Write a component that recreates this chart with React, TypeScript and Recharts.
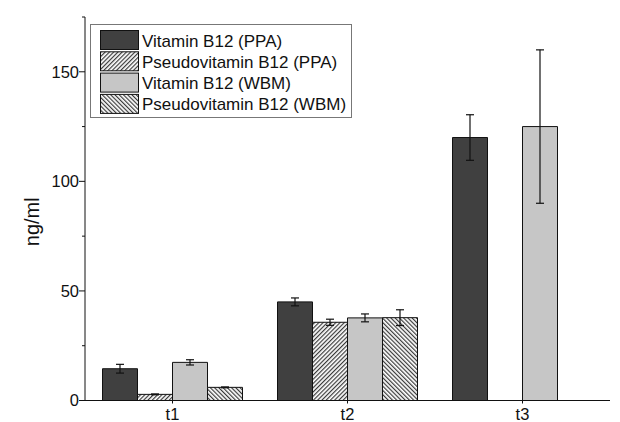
import React from 'react';
import { BarChart, Bar, XAxis, YAxis, ErrorBar, Legend, Label } from 'recharts';

const categories = ['t1', 't2', 't3'];
const vitaminPPA = [14.5, 45, 120];
const vitaminPPAErr = [2, 1.8, 10.4];
const pseudoPPA = [2.8, 35.7, null];
const pseudoPPAErr = [0.2, 1.4, null];
const vitaminWBM = [17.4, 37.7, 125];
const vitaminWBMErr = [1.2, 1.8, 35];
const pseudoWBM = [6.0, 37.8, null];
const pseudoWBMErr = [0.2, 3.6, null];
const yTicks = [0, 25, 50, 75, 100, 125, 150, 175];
const yLabels = [0, 50, 100, 150];

const seriesNames = [
  'Vitamin B12 (PPA)',
  'Pseudovitamin B12 (PPA)',
  'Vitamin B12 (WBM)',
  'Pseudovitamin B12 (WBM)',
];

const data = categories.map((c, i) => ({
  cat: c,
  vPPA: vitaminPPA[i],
  vPPAe: vitaminPPAErr[i],
  pPPA: pseudoPPA[i],
  pPPAe: pseudoPPAErr[i],
  vWBM: vitaminWBM[i],
  vWBMe: vitaminWBMErr[i],
  pWBM: pseudoWBM[i],
  pWBMe: pseudoWBMErr[i],
}));

const FONT = '"Liberation Sans", Arial, Helvetica, sans-serif';
const DARK = '#404040';
const LIGHT = '#c6c6c6';
const STRIPE = '#3a3a3a';

const Patterns = ({ prefix }: { prefix: string }) => (
  <defs>
    <pattern id={`${prefix}fwd`} patternUnits="userSpaceOnUse" width="3" height="3" patternTransform="rotate(45)">
      <rect width="3" height="3" fill="#fff" />
      <line x1="0.6" y1="0" x2="0.6" y2="3" stroke={STRIPE} strokeWidth="1.2" />
    </pattern>
    <pattern id={`${prefix}bck`} patternUnits="userSpaceOnUse" width="3" height="3" patternTransform="rotate(-45)">
      <rect width="3" height="3" fill="#fff" />
      <line x1="0.6" y1="0" x2="0.6" y2="3" stroke={STRIPE} strokeWidth="1.2" />
    </pattern>
  </defs>
);

const YTick = (props: any) => {
  const { x, y, payload } = props;
  const major = yLabels.includes(payload.value);
  return (
    <g>
      <line x1={major ? x : x + 3} y1={y} x2={x + 6} y2={y} stroke="#111" strokeWidth={1} />
      {major && (
        <text x={x} y={y} dy="0.36em" textAnchor="end" fontSize={16.5} fontFamily={FONT} fill="#111">
          {payload.value}
        </text>
      )}
    </g>
  );
};

const legendFills = [DARK, 'url(#lgfwd)', LIGHT, 'url(#lgbck)'];

const renderLegend = () => (
  <svg width={263} height={95} style={{ display: 'block' }}>
    <Patterns prefix="lg" />
    <rect x={0.5} y={0.5} width={261} height={93} fill="#fff" stroke="#777" strokeWidth={1} />
    {seriesNames.map((n, i) => (
      <g key={n}>
        <rect x={10.5} y={6.5 + i * 21.3} width={38} height={19} fill={legendFills[i]} stroke="#111" strokeWidth={1} />
        <text x={52} y={22.5 + i * 21.3} fontSize={17} fontFamily={FONT} fill="#111">
          {n}
        </text>
      </g>
    ))}
  </svg>
);

const YLabel = (props: any) => {
  const vb = props.viewBox || { x: 0, y: 17, width: 85, height: 383.5 };
  const cx = vb.x + 31.5;
  const cy = vb.y + vb.height / 2 + 13;
  return (
    <text x={cx} y={cy} transform={`rotate(-90, ${cx}, ${cy})`} textAnchor="middle" dominantBaseline="central" fontSize={20} fontFamily={FONT} fill="#111">
      ng/ml
    </text>
  );
};

export default function App() {
  return (
    <div style={{ position: 'absolute', left: 0, top: 0, width: 620, height: 422, background: '#fff' }}>
      <BarChart
        width={620}
        height={422}
        data={data}
        margin={{ top: 17, right: 10, left: 0, bottom: 0 }}
        barCategoryGap="10%"
        barGap={0}
      >
        <Patterns prefix="ch" />
        <XAxis
          dataKey="cat"
          height={21.5}
          tickSize={3}
          tickMargin={5}
          stroke="#111"
          axisLine={{ stroke: '#111', strokeWidth: 1 }}
          tickLine={{ stroke: '#111' }}
          tick={{ fontSize: 16.5, fontFamily: FONT, fill: '#111' }}
        />
        <YAxis
          width={85}
          domain={[0, 175]}
          ticks={yTicks}
          interval={0}
          tickSize={5}
          tickMargin={1}
          tickLine={false}
          axisLine={{ stroke: '#111', strokeWidth: 1 }}
          tick={<YTick />}
        >
          <Label content={<YLabel />} />
        </YAxis>
        <Legend
          layout="vertical"
          align="center"
          verticalAlign="middle"
          content={renderLegend}
          wrapperStyle={{ position: 'absolute', left: 90, top: 24, width: 263, height: 95 }}
        />
        <Bar dataKey="vPPA" name={seriesNames[0]} fill={DARK} stroke="#111" strokeWidth={1} isAnimationActive={false}>
          <ErrorBar dataKey="vPPAe" width={4} stroke="#111" strokeWidth={1.2} />
        </Bar>
        <Bar dataKey="pPPA" name={seriesNames[1]} fill="url(#chfwd)" stroke="#111" strokeWidth={1} isAnimationActive={false}>
          <ErrorBar dataKey="pPPAe" width={4} stroke="#111" strokeWidth={1.2} />
        </Bar>
        <Bar dataKey="vWBM" name={seriesNames[2]} fill={LIGHT} stroke="#111" strokeWidth={1} isAnimationActive={false}>
          <ErrorBar dataKey="vWBMe" width={4} stroke="#111" strokeWidth={1.2} />
        </Bar>
        <Bar dataKey="pWBM" name={seriesNames[3]} fill="url(#chbck)" stroke="#111" strokeWidth={1} isAnimationActive={false}>
          <ErrorBar dataKey="pWBMe" width={4} stroke="#111" strokeWidth={1.2} />
        </Bar>
      </BarChart>
    </div>
  );
}
